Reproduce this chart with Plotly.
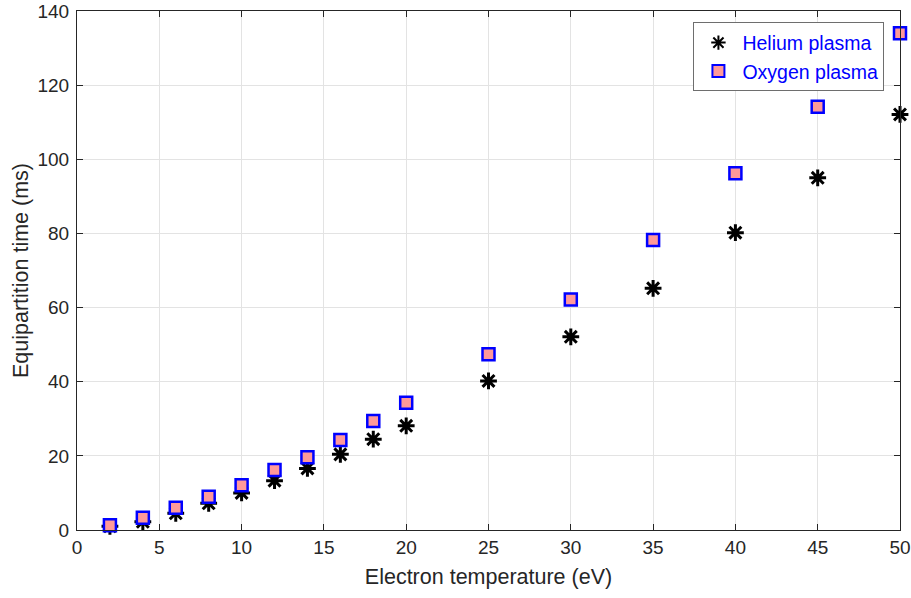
import plotly.graph_objects as go

temps = [2, 4, 6, 8, 10, 12, 14, 16, 18, 20, 25, 30, 35, 40, 45, 50]
helium = [1.0, 2.2, 4.5, 7.2, 10.0, 13.3, 16.6, 20.4, 24.5, 28.1, 40.2, 52.1, 65.2, 80.2, 95.0, 112.1]
oxygen = [1.3, 3.3, 6.0, 9.0, 12.1, 16.2, 19.6, 24.3, 29.4, 34.3, 47.4, 62.2, 78.2, 96.2, 114.2, 134.0]

x_ticks = [0, 5, 10, 15, 20, 25, 30, 35, 40, 45, 50]
y_ticks = [0, 20, 40, 60, 80, 100, 120, 140]

font_family = "Liberation Sans, Arial, sans-serif"
axis_color = "#262626"

fig = go.Figure()
fig.add_trace(go.Scatter(
    x=temps, y=helium, mode="markers", name="Helium plasma",
    cliponaxis=False,
    marker=dict(symbol="asterisk-open", size=14, color="black",
                line=dict(color="black", width=3)),
))
fig.add_trace(go.Scatter(
    x=temps, y=oxygen, mode="markers", name="Oxygen plasma",
    cliponaxis=False,
    marker=dict(symbol="square", size=12, color="#FF9999",
                line=dict(color="#0000FF", width=2.5)),
))

axis_common = dict(
    showline=True, linecolor=axis_color, linewidth=1, mirror="ticks",
    ticks="inside", ticklen=6, tickcolor=axis_color, tickwidth=1,
    showgrid=True, gridcolor="#E3E3E3", gridwidth=1, zeroline=False,
    automargin=False,
    tickfont=dict(family=font_family, size=19, color=axis_color),
)

fig.update_layout(
    width=911, height=598,
    margin=dict(l=77, r=11, t=11, b=68),
    paper_bgcolor="white", plot_bgcolor="white",
    font=dict(family=font_family, color=axis_color),
    xaxis=dict(range=[0, 50], tickvals=x_ticks,
               title=dict(text="Electron temperature (eV)", font=dict(size=21.5, color=axis_color), standoff=12),
               **axis_common),
    yaxis=dict(range=[0, 140], tickvals=y_ticks, ticklabelstandoff=3,
               title=dict(text="Equipartition time (ms)", font=dict(size=21.5, color=axis_color), standoff=2),
               **axis_common),
    legend=dict(x=0.749, y=0.978, xanchor="left", yanchor="top",
                bgcolor="white", bordercolor="#6E6E6E", borderwidth=1,
                font=dict(family=font_family, size=19.5, color="#0000FF"),
                itemwidth=38, itemsizing="constant"),
    showlegend=True,
)

fig.write_html("out.html", config={"displayModeBar": False},
               post_script="document.body.style.margin='0';")
